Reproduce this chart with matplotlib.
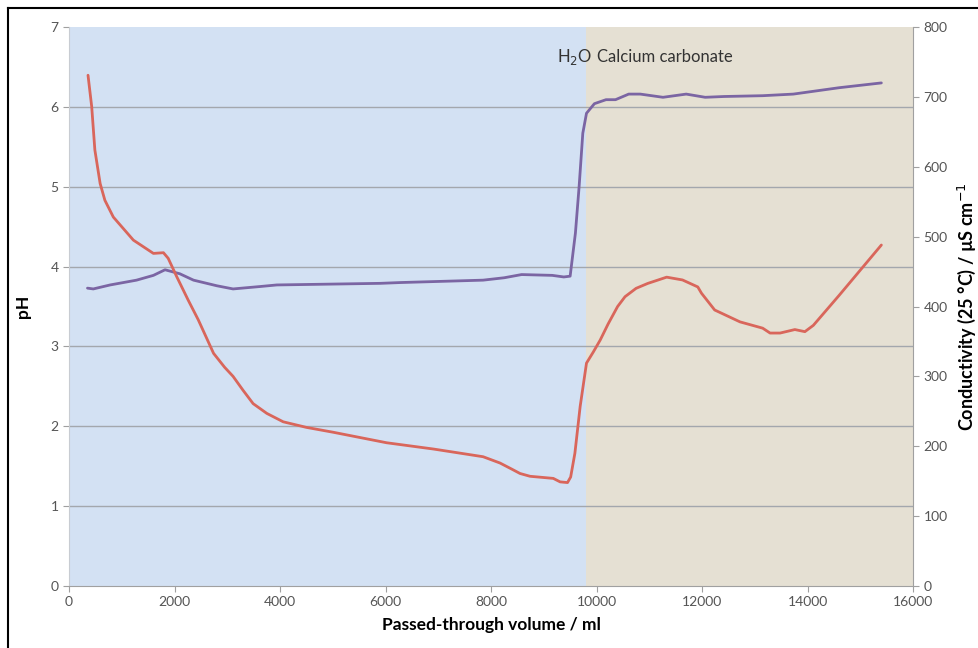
import matplotlib.pyplot as plt
from matplotlib.lines import Line2D

plt.rcParams['font.family'] = ['Lato', 'DejaVu Sans']

# pH (left axis)
vol_ph = [350, 460, 780, 1280, 1600, 1820, 2100, 2360, 2800, 3110, 3620, 3940,
          5900, 6280, 7850, 8250, 8580, 9160, 9380, 9500, 9600, 9670, 9740,
          9810, 9960, 10180, 10360, 10610, 10830, 11260, 11700, 12060, 12420,
          13150, 13730, 14600, 15400]
ph = [3.73, 3.72, 3.77, 3.83, 3.89, 3.96, 3.91, 3.83, 3.76, 3.72, 3.75, 3.77,
      3.79, 3.80, 3.83, 3.86, 3.90, 3.89, 3.87, 3.88, 4.42, 5.00, 5.67,
      5.92, 6.04, 6.09, 6.09, 6.16, 6.16, 6.12, 6.16, 6.12, 6.13,
      6.14, 6.16, 6.24, 6.30]

# conductivity (right axis)
vol_cond = [360, 430, 490, 590, 680, 840, 1220, 1600, 1790, 1880, 2040, 2260,
            2450, 2740, 2950, 3110, 3300, 3490, 3750, 4060, 4500, 5010, 6020,
            6910, 7850, 8170, 8400, 8550, 8740, 9180, 9310, 9450, 9510, 9590,
            9690, 9810, 9940, 10070, 10220, 10400, 10540, 10750, 10970, 11330,
            11630, 11920, 11990, 12240, 12720, 13150, 13290, 13480, 13760,
            13950, 14110, 14600, 15400]
cond = [731, 686, 624, 576, 552, 528, 495, 476, 477, 469, 443, 409,
        381, 333, 313, 300, 280, 261, 247, 235, 227, 220, 205,
        196, 185, 176, 167, 161, 157, 154, 149, 148, 156, 190,
        257, 319, 335, 352, 375, 400, 414, 426, 433, 442,
        438, 428, 419, 395, 378, 369, 362, 362, 367,
        364, 373, 416, 488]

boundary = 9800

fig = plt.figure(figsize=(9.79, 6.48), dpi=100)
ax = fig.add_axes([0.0705, 0.0957, 0.8621, 0.8626])
ax2 = ax.twinx()

ax.axvspan(0, boundary, color='#d3e1f3', lw=0, zorder=0)
ax.axvspan(boundary, 16000, color='#e5e0d3', lw=0, zorder=0)

ax.plot(vol_ph, ph, color='#7b65a3', lw=2, solid_capstyle='round',
        solid_joinstyle='round', zorder=3)
ax2.plot(vol_cond, cond, color='#d9665b', lw=2, solid_capstyle='round',
         solid_joinstyle='round', zorder=3)

ax.set_xlim(0, 16000)
ax.set_ylim(0, 7)
ax2.set_ylim(0, 800)
ax.set_xticks(range(0, 16001, 2000))
ax.set_yticks(range(0, 8))
ax2.set_yticks(range(0, 801, 100))

for y in range(1, 7):
    ax.axhline(y, color='#a3a7ad', lw=1, zorder=1)

for a in (ax, ax2):
    a.tick_params(colors='#a0a0a0', labelcolor='#555555', labelsize=10,
                  length=4, width=0.8)
    for s in a.spines.values():
        s.set_visible(False)
ax.spines['bottom'].set_visible(True)
ax.spines['bottom'].set_color('#a0a0a0')
ax.spines['left'].set_visible(True)
ax.spines['left'].set_color('#c8ccd2')
ax2.spines['right'].set_visible(True)
ax2.spines['right'].set_color('#a0a0a0')

ax.set_xlabel('Passed-through volume / ml', fontsize=12.5, fontweight='bold',
              labelpad=6)
ax.set_ylabel('pH', fontsize=12.5, fontweight='bold', labelpad=14)
ax2.set_ylabel('Conductivity (25 °C) / µS cm$^{-1}$', fontsize=13,
               fontweight='bold', labelpad=6)

ax.text(9250, 6.62, 'H$_2$O', fontsize=12, color='#333333', va='center')
ax.text(10000, 6.62, 'Calcium carbonate', fontsize=12, color='#333333',
        va='center')

# black frame on top and left
fig.add_artist(Line2D([0.0082, 1.0], [0.9877, 0.9877], color='black', lw=1.5,
                      transform=fig.transFigure))
fig.add_artist(Line2D([0.0082, 0.0082], [0.0, 0.9877], color='black', lw=1.5,
                      transform=fig.transFigure))

fig.savefig('out.png', dpi=100)
